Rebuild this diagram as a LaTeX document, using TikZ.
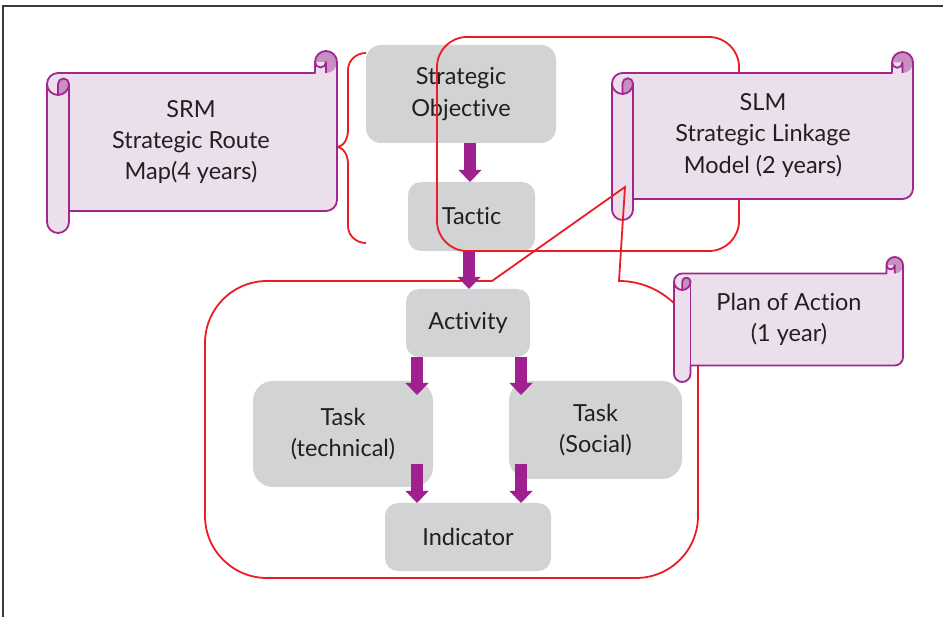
\documentclass[tikz,border=0pt]{standalone}
\usepackage{fontspec}
\setmainfont{Lato}[Ligatures=NoCommon]
\usetikzlibrary{arrows.meta,calc}
\definecolor{boxgray}{HTML}{D1D3D4}
\definecolor{txt}{HTML}{231F20}
\definecolor{redl}{HTML}{ED1C24}
\definecolor{purp}{HTML}{A0208F}
\definecolor{scrollfill}{HTML}{ECDFEC}
\definecolor{scrolldark}{HTML}{C690C3}
\definecolor{scrollline}{HTML}{A3268F}
\definecolor{framec}{HTML}{3A3A3A}

% l t r b c  (pixels, y grows downward)
\newcommand\drawscroll[5]{%
\pgfmathsetmacro\sL{#1}\pgfmathsetmacro\sT{-#2}%
\pgfmathsetmacro\sR{#3}\pgfmathsetmacro\sB{-#4}%
\pgfmathsetmacro\sc{#5}\pgfmathsetmacro\sh{#5/2}\pgfmathsetmacro\sq{#5/4}%
\fill[scrollfill] (\sL,\sT-1.5*\sc) arc[start angle=180,end angle=90,radius=\sh]
  -- (\sR-\sc,\sT-\sc) -- (\sR-\sc,\sT-\sh) arc[start angle=180,end angle=0,radius=\sh]
  -- (\sR,\sB+1.5*\sc) arc[start angle=0,end angle=-90,radius=\sh]
  -- (\sL+\sc,\sB+\sc) -- (\sL+\sc,\sB+\sh) arc[start angle=0,end angle=-180,radius=\sh] -- cycle;
\fill[scrolldark] (\sR-\sh,\sT-\sh) -- (\sR-\sc,\sT-\sh) arc[start angle=180,end angle=-90,radius=\sh] -- cycle;
\fill[scrolldark] (\sL+\sh,\sT-2*\sc) arc[start angle=-90,end angle=0,radius=\sh]
  arc[start angle=0,end angle=180,radius=\sq] -- cycle;
\draw[scrollpen] (\sL,\sT-1.5*\sc) arc[start angle=180,end angle=90,radius=\sh]
  -- (\sR-\sc,\sT-\sc) -- (\sR-\sc,\sT-\sh) arc[start angle=180,end angle=0,radius=\sh]
  -- (\sR,\sB+1.5*\sc) arc[start angle=0,end angle=-90,radius=\sh]
  -- (\sL+\sc,\sB+\sc) -- (\sL+\sc,\sB+\sh) arc[start angle=0,end angle=-180,radius=\sh] -- cycle;
\draw[scrollpen] (\sR-\sh,\sT-\sc) -- (\sR-\sh,\sT-\sh) arc[start angle=0,end angle=-180,radius=\sq];
\draw[scrollpen] (\sL+\sh,\sT-2*\sc) -- (\sL+\sh,\sT-1.5*\sc) arc[start angle=180,end angle=0,radius=\sq]
  arc[start angle=0,end angle=-180,radius=\sh];
\draw[scrollpen] (\sL+\sc,\sT-1.5*\sc) -- (\sL+\sc,\sB+\sc);
}

\begin{document}
\begin{tikzpicture}[x=1pt,y=1pt,
  font=\fontsize{23.5}{31.3}\selectfont, text=txt,
  graybox/.style={fill=boxgray, draw=none, rounded corners=13pt, align=center, inner sep=0pt, outer sep=0pt},
  scrolltext/.style={align=center, inner sep=0pt},
  scrollpen/.style={draw=scrollline, line width=1.8pt, line join=round},
  redline/.style={draw=redl, line width=1.8pt},
  bigarrow/.style={draw=purp, line width=12.5pt, -{Triangle[width=23pt,length=12pt,line width=0pt]}},
  framepen/.style={draw=framec, line width=1.2pt}]
\useasboundingbox (0,0) rectangle (943,-617);
\fill[white] (0,0) rectangle (943,-617);
\draw[framepen] (3,-617) -- (3,-6) -- (943,-6);

% gray boxes
\node[graybox, minimum width=190pt, minimum height=98pt, rounded corners=15pt] (so) at (461,-94) {Strategic\\Objective};
\node[graybox, minimum width=127pt, minimum height=69pt] (tac) at (471.5,-216.5) {Tactic};
\node[graybox, minimum width=124pt, minimum height=68pt] (act) at (468,-323) {Activity};
\node[graybox, minimum width=180pt, minimum height=106pt, rounded corners=20pt] (tech) at (343,-434) {Task\\(technical)};
\node[graybox, minimum width=173pt, minimum height=98pt, rounded corners=20pt] (soc) at (595.5,-430) {Task\\(Social)};
\node[graybox, minimum width=166pt, minimum height=68pt] (ind) at (468,-537) {Indicator};

% red rounded rectangle (top)
\draw[redline, rounded corners=30pt] (437,-37) rectangle (739,-251);

% red brace
\draw[redline] (366,-53) to[out=180,in=90] (348,-70) -- (348,-130)
  to[out=-90,in=0] (336,-147) to[out=0,in=90] (348,-164) -- (348,-226)
  to[out=-90,in=180] (366,-243);

% SLM scroll
\drawscroll{612}{52}{913}{220}{21}
\node[scrolltext] (slm) at (763,-135.5) {SLM\\Strategic Linkage\\Model (2 years)};

% red callout (bottom)
\draw[redline, line join=miter] (492,-281) -- (625,-187) -- (619,-281)
  arc[start angle=90,end angle=0,radius=79] -- (698,-516)
  arc[start angle=0,end angle=-90,radius=62] -- (267,-578)
  arc[start angle=-90,end angle=-180,radius=62] -- (205,-343)
  arc[start angle=180,end angle=90,radius=62] -- cycle;

% Plan of Action scroll
\drawscroll{674}{257}{903}{382}{16.5}
\node[scrolltext] (poa) at (789,-319.5) {Plan of Action\\(1 year)};

% SRM scroll
\drawscroll{47}{51}{337}{233}{22}
\node[scrolltext] (srm) at (191,-142) {SRM\\Strategic Route\\Map(4 years)};

% arrows
\coordinate (c1) at (470,0);
\coordinate (c2) at (469,0);
\coordinate (cl) at (417,0);
\coordinate (cr) at (521,0);
\draw[bigarrow] (c1 |- so.south) -- (c1 |- tac.north);
\draw[bigarrow] (c2 |- tac.south) -- (c2 |- act.north);
\draw[bigarrow, shorten >=-14pt] (cl |- act.south) -- (cl |- tech.north);
\draw[bigarrow, shorten >=-14pt] (cr |- act.south) -- (cr |- soc.north);
\draw[bigarrow, shorten <=-23pt] (cl |- tech.south) -- (cl |- ind.north);
\draw[bigarrow, shorten <=-15pt] (cr |- soc.south) -- (cr |- ind.north);
\end{tikzpicture}
\end{document}
